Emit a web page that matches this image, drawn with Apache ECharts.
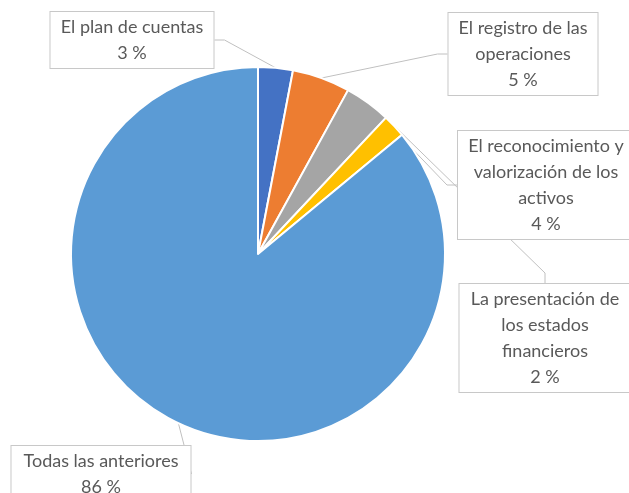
<!DOCTYPE html>
<html>
<head>
<meta charset="utf-8">
<script src="https://cdn.jsdelivr.net/npm/echarts@6/dist/echarts.min.js"></script>
<style>
  html, body { margin: 0; padding: 0; background: #fff; }
  #chart { width: 629px; height: 493px; }
</style>
</head>
<body>
<div id="chart"></div>
<script>
// slice names and shares (%)
var categories = [
  'El plan de cuentas',
  'El registro de las\noperaciones',
  'El reconocimiento y\nvalorización de los\nactivos',
  'La presentación de\nlos estados\nfinancieros',
  'Todas las anteriores'
];
var shares = [3, 5, 4, 2, 86];
var colors = ['#4472C4', '#ED7D31', '#A5A5A5', '#FFC000', '#5B9BD5'];

// where each callout box sits (center) and its inner width
var boxCenters = [[132, 40], [523, 54], [546, 185], [545, 338], [101, 474]];
var boxWidths = [151, 137, 164, 159, 167];

var myChart = echarts.init(document.getElementById('chart'));

var seriesData = categories.map(function (name, i) {
  return {
    name: name,
    value: shares[i],
    itemStyle: { color: colors[i] },
    label: { width: boxWidths[i] }
  };
});

var option = {
  animation: false,
  series: [
    {
      type: 'pie',
      center: [258, 254],
      radius: 187,
      startAngle: 90,
      clockwise: true,
      itemStyle: { borderColor: '#fff', borderWidth: 2 },
      label: {
        show: true,
        position: 'outside',
        formatter: '{b}\n{c} %',
        fontFamily: 'Lato',
        fontSize: 18,
        lineHeight: 26,
        color: '#595959',
        align: 'center',
        backgroundColor: '#fff',
        borderColor: '#c8c8c8',
        borderWidth: 1,
        padding: [2, 6, 2, 6]
      },
      labelLine: {
        show: true,
        length: 10,
        length2: 10,
        lineStyle: { color: '#c0c0c0', width: 1 }
      },
      labelLayout: function (params) {
        var c = boxCenters[params.dataIndex];
        return { x: c[0], y: c[1], align: 'center', verticalAlign: 'middle' };
      },
      data: seriesData
    }
  ]
};

myChart.setOption(option);
</script>
</body>
</html>
